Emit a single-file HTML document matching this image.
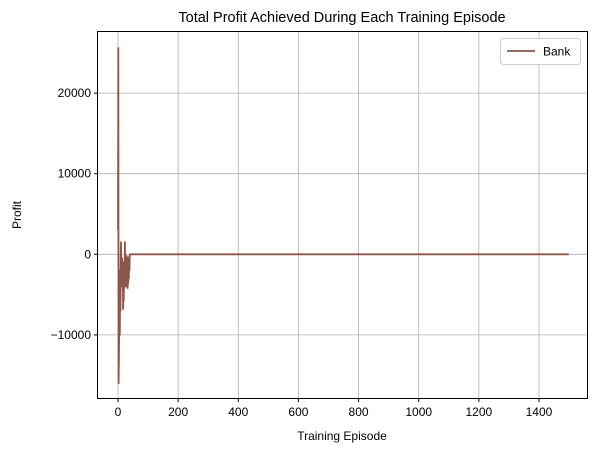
<!DOCTYPE html>
<html><head><meta charset="utf-8">
<style>
body{margin:0;background:#fff;}
svg{display:block;font-family:"Liberation Sans",sans-serif;}
</style></head>
<body>
<svg id="chart" width="601" height="453" viewBox="0 0 601 453">
<g id="grid"></g>
<g id="series"></g>
<rect x="97.5" y="31.5" width="490" height="367" fill="none" stroke="#000" stroke-width="1"/>
<g id="axes"></g>
<text x="342" y="22" text-anchor="middle" font-size="14.5">Total Profit Achieved During Each Training Episode</text>
<text x="342" y="440" text-anchor="middle" font-size="12">Training Episode</text>
<text transform="translate(21,215) rotate(-90)" text-anchor="middle" font-size="12">Profit</text>
<g>
<rect x="500.5" y="38.5" width="80" height="26" rx="3" fill="#fff" stroke="#ccc"/>
<line x1="507" y1="51" x2="535" y2="51" stroke="#8c564b" stroke-width="1.8"/>
<text x="543" y="55.5" font-size="12">Bank</text>
</g>
</svg>
<script>
const xTicks=[0,200,400,600,800,1000,1200,1400];
const yTicks=[-10000,0,10000,20000];
const earlyProfits=[3000,25600,-16000,-12700,-9000,-3000,-10000,-2000,-7000,-1000,1500,-4000,-2500,-3500,-500,-4000,-3000,-6800,-2000,-5800,-1000,-4200,-2600,1500,-4000,-500,-3800,-3000,-200,-4000,-2500,-400,-4200,-1500,-3600,-800,-3000,-300,-2000,-100,0];
const tailProfit=0;
const totalEpisodes=1500;
const X=v=>118+v*0.3007;
const Y=v=>254.3-v*0.00806;
const ns="http://www.w3.org/2000/svg";
const grid=document.getElementById('grid'),axes=document.getElementById('axes'),ser=document.getElementById('series');
function mk(t,a,p){const e=document.createElementNS(ns,t);for(const k in a)e.setAttribute(k,a[k]);p.appendChild(e);return e;}
xTicks.forEach(t=>{const x=X(t);
 const g=mk('line',{x1:x,y1:31.5,x2:x,y2:398.5,stroke:'#b0b0b0','stroke-width':0.8},grid);
 
 
 const k=mk('line',{x1:x,y1:398.5,x2:x,y2:402,stroke:'#000'},axes);
 
 
 const l=mk('text',{x:x,y:416,'text-anchor':'middle','font-size':12},axes);l.textContent=t;
 
 
});
yTicks.forEach(t=>{const y=Y(t);
 const g=mk('line',{x1:97.5,y1:y,x2:587.5,y2:y,stroke:'#b0b0b0','stroke-width':0.8},grid);
 
 
 const k=mk('line',{x1:94,y1:y,x2:97.5,y2:y,stroke:'#000'},axes);
 
 
 const l=mk('text',{x:91,y:y+4,'text-anchor':'end','font-size':12},axes);l.textContent=t<0?'\u2212'+(-t):t;
 
 
});
const pts=[];
for(let i=0;i<totalEpisodes;i++){const v=i<earlyProfits.length?earlyProfits[i]:tailProfit;pts.push(X(i).toFixed(2)+','+Y(v).toFixed(2));}
const line=mk('polyline',{points:pts.join(' '),fill:'none',stroke:'#8c564b','stroke-width':1.8,'stroke-linejoin':'round'},ser);


</script>
</body></html>
